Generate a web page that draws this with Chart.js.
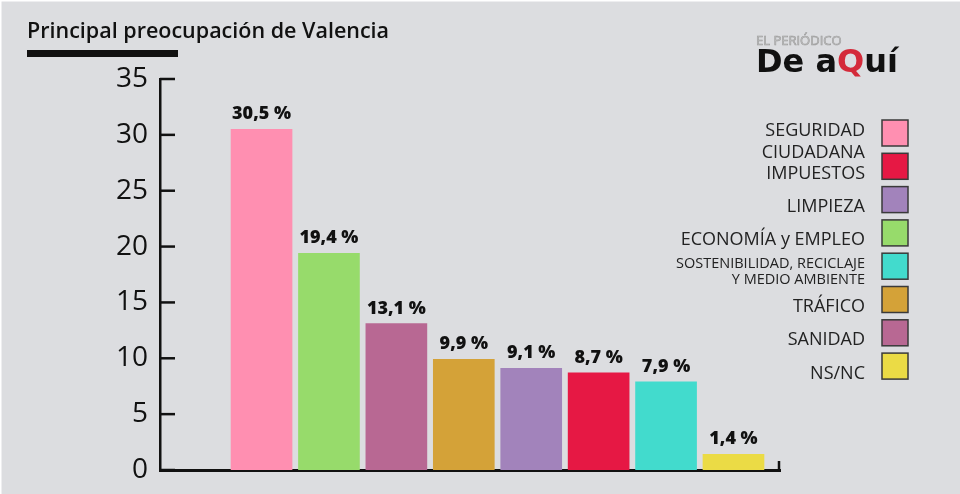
<!DOCTYPE html>
<html><head><meta charset="utf-8">
<script src="https://cdn.jsdelivr.net/npm/chart.js@4"></script>
<style>html,body{margin:0;padding:0;background:#dcdde0;}canvas{display:block;}</style>
</head><body><canvas id="c" width="960" height="494"></canvas>
<script>
const titleText = "Principal preocupación de Valencia";
const categories = ["SEGURIDAD CIUDADANA","ECONOMÍA y EMPLEO","SANIDAD","TRÁFICO","LIMPIEZA","IMPUESTOS","SOSTENIBILIDAD, RECICLAJE Y MEDIO AMBIENTE","NS/NC"];
const values = [30.5, 19.4, 13.1, 9.9, 9.1, 8.7, 7.9, 1.4];
const barColors = ["#ff8fb1","#97db6b","#b86893","#d4a238","#a283bb","#e61844","#42dbcd","#ebdb45"];
const yTicks = [0, 5, 10, 15, 20, 25, 30, 35];
const legendLabels = [["SEGURIDAD","CIUDADANA"],["IMPUESTOS"],["LIMPIEZA"],["ECONOMÍA y EMPLEO"],["SOSTENIBILIDAD, RECICLAJE","Y MEDIO AMBIENTE"],["TRÁFICO"],["SANIDAD"],["NS/NC"]];
const legendColors = ["#ff8fb1","#e61844","#a283bb","#97db6b","#42dbcd","#d4a238","#b86893","#ebdb45"];

const fmt = v => v.toFixed(1).replace('.', ',') + ' %';

const deco = {
  id: 'deco',
  beforeDraw(chart) {
    const c = chart.ctx;
    c.save();
    c.fillStyle = '#dcdde0';
    c.fillRect(0, 0, chart.width, chart.height);
    c.fillStyle = '#ffffff';
    c.fillRect(0, 0, chart.width, 1.5);
    c.fillRect(0, 0, 1.5, chart.height);
    c.restore();
  },
  afterDatasetsDraw(chart) {
    const c = chart.ctx;
    const meta = chart.getDatasetMeta(0);
    c.save();
    c.fillStyle = '#111';
    c.font = '800 18px "Open Sans"';
    c.textAlign = 'center';
    c.textBaseline = 'alphabetic';
    meta.data.forEach((el, i) => {
      c.fillText(fmt(values[i]), el.x, el.y - 10);
    });
    c.restore();
  },
  afterDraw(chart) {
    const c = chart.ctx;
    const ca = chart.chartArea;
    const ys = chart.scales.y;
    c.save();
    c.strokeStyle = '#111';
    c.lineWidth = 2.5;
    yTicks.forEach(v => {
      const py = ys.getPixelForValue(v);
      c.beginPath();
      c.moveTo(ca.left, py);
      c.lineTo(ca.left + 15, py);
      c.stroke();
    });
    c.beginPath();
    c.moveTo(ca.right - 1, ca.bottom);
    c.lineTo(ca.right - 1, ca.bottom - 9);
    c.stroke();
    // title
    c.fillStyle = '#111';
    c.font = '600 21.5px "Open Sans"';
    c.textAlign = 'left';
    c.textBaseline = 'alphabetic';
    c.fillText(titleText, 27, 38);
    c.fillRect(27, 50, 151, 7);
    // logo
    c.font = '13px "Open Sans"';
    c.fillStyle = '#c9c9c9';
    c.strokeStyle = '#9a9a9a';
    c.lineWidth = 0.6;
    c.fillText('EL PERIÓDICO', 756, 45);
    c.strokeText('EL PERIÓDICO', 756, 45);
    c.font = 'bold 32px "DejaVu Sans"';
    let x = 756;
    const parts = [['De a', '#111'], ['Q', '#d42a3a'], ['uí', '#111']];
    parts.forEach(([t, col]) => {
      c.fillStyle = col;
      c.fillText(t, x, 72);
      x += c.measureText(t).width;
    });
    // legend
    const boxX = 882, boxS = 26, textR = 865, top0 = 120, step = 33.3;
    legendLabels.forEach((lines, i) => {
      const by = top0 + step * i;
      c.fillStyle = legendColors[i];
      c.fillRect(boxX, by, boxS, boxS);
      c.strokeStyle = '#3a3a3a';
      c.lineWidth = 1.5;
      c.strokeRect(boxX, by, boxS, boxS);
      const small = lines[0].length > 20;
      const fs = small ? 14.5 : 18;
      const lh = small ? 16 : 22;
      c.font = fs + 'px "Open Sans"';
      c.fillStyle = '#222';
      c.textAlign = 'right';
      const cy = by + boxS / 2;
      const first = lines.length > 1 ? cy - 3 : cy + 6;
      lines.forEach((ln, j) => {
        c.fillText(ln, textR, first + j * lh + fs * 0.36);
      });
    });
    c.restore();
  }
};

new Chart(document.getElementById('c').getContext('2d'), {
  type: 'bar',
  data: {
    datasets: [{
      data: values.map((v, i) => ({ x: i, y: v })),
      backgroundColor: barColors,
      barThickness: 61,
      borderWidth: 0
    }]
  },
  options: {
    responsive: false,
    animation: false,
    devicePixelRatio: 1,
    layout: { padding: { left: 0, top: 79, right: 180, bottom: 24 } },
    plugins: { legend: { display: false }, tooltip: { enabled: false }, title: { display: false } },
    scales: {
      x: {
        type: 'linear', min: -1.506, max: 7.69, offset: false,
        grid: { display: false, drawTicks: false },
        ticks: { display: false },
        border: { display: true, color: '#111', width: 3 }
      },
      y: {
        min: 0, max: 35,
        afterBuildTicks: s => { s.ticks = yTicks.map(v => ({ value: v })); },
        afterFit: s => { s.width = 160; s.paddingBottom = 0; s.paddingTop = 0; },
        grid: { display: false, drawTicks: false },
        border: { display: true, color: '#111', width: 2.5 },
        ticks: { padding: 12, color: '#111', font: { family: 'Open Sans', size: 28 } }
      }
    }
  },
  plugins: [deco]
});
</script>
</body></html>
